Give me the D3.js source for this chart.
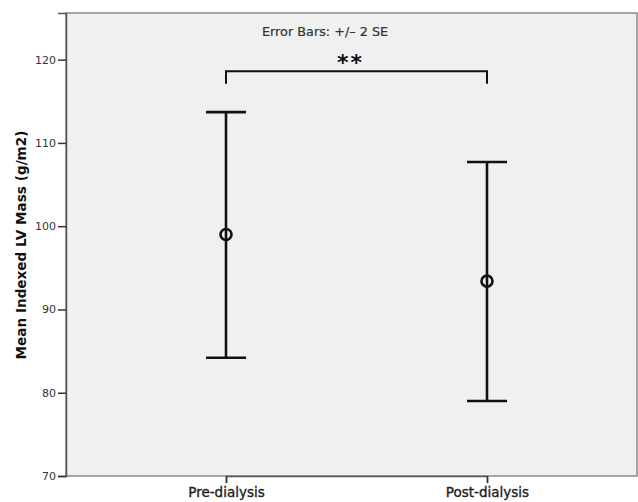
<!DOCTYPE html>
<html>
<head>
<meta charset="utf-8">
<script src="https://cdn.jsdelivr.net/npm/d3@7"></script>
<style>
  html, body { margin: 0; padding: 0; background: #ffffff; }
  svg { display: block; font-family: "DejaVu Sans", sans-serif; }
</style>
</head>
<body>
<div id="chart"></div>
<script>
// values
const groups = ['Pre-dialysis', 'Post-dialysis'];
const means = [99.0, 93.4];
const lowerBounds = [84.2, 79.0];
const upperBounds = [113.7, 107.7];
const yTicks = [70, 80, 90, 100, 110, 120];
const bracketLevel = 118.6;
const bracketDrop = 117.1;

const W = 638, H = 502;
const m = { top: 13, right: 1, bottom: 26, left: 66 };

const svg = d3.select('#chart').append('svg')
  .attr('width', W)
  .attr('height', H);

const x = d3.scalePoint()
  .domain(groups)
  .range([m.left + 160, W - m.right - 150]);

const y = d3.scaleLinear()
  .domain([70, 125.6])
  .range([H - m.bottom, m.top]);

// plot background
svg.append('rect')
  .attr('x', m.left)
  .attr('y', m.top)
  .attr('width', W - m.left - m.right)
  .attr('height', H - m.top - m.bottom)
  .attr('fill', '#f0f0f0')
  .attr('stroke', '#8a8a8a')
  .attr('stroke-width', 1.5);

// y axis
const yAxis = svg.append('g')
  .attr('transform', `translate(${m.left},0)`)
  .call(d3.axisLeft(y).tickValues(yTicks).tickSize(8).tickPadding(2).tickFormat(d3.format('d')));
yAxis.select('.domain').attr('stroke', '#555').attr('stroke-width', 1.5);
yAxis.selectAll('.tick line').attr('stroke', '#333').attr('stroke-width', 1.5);
yAxis.selectAll('.tick text')
  .attr('font-size', 11)
  .attr('fill', '#333')
  .attr('font-family', '"DejaVu Sans", sans-serif');

// x axis
const xAxis = svg.append('g')
  .attr('transform', `translate(0,${H - m.bottom})`)
  .call(d3.axisBottom(x).tickSize(7).tickPadding(4));
xAxis.select('.domain').attr('stroke', '#555').attr('stroke-width', 1.5);
xAxis.selectAll('.tick line').attr('stroke', '#333').attr('stroke-width', 1.5);
xAxis.selectAll('.tick text')
  .attr('font-size', 13.5)
  .attr('fill', '#222')
  .attr('stroke', '#222')
  .attr('stroke-width', 0.35)
  .attr('font-family', '"DejaVu Sans", sans-serif');

// y axis title
svg.append('text')
  .attr('transform', `translate(26,245) rotate(-90)`)
  .attr('text-anchor', 'middle')
  .attr('font-size', 13.6)
  .attr('font-weight', 700)
  .attr('fill', '#111')
  .text('Mean Indexed LV Mass (g/m2)');

// note
svg.append('text')
  .attr('x', 262)
  .attr('y', 36)
  .attr('font-size', 12.8)
  .attr('fill', '#333')
  .attr('stroke', '#333')
  .attr('stroke-width', 0.2)
  .text('Error Bars: +/\u2013 2 SE');

// error bars
const half = 20;
const bars = svg.append('g').selectAll('g')
  .data(groups.map((g, i) => ({ g, mean: means[i], lo: lowerBounds[i], hi: upperBounds[i] })))
  .join('g');

bars.append('line')
  .attr('x1', d => x(d.g)).attr('x2', d => x(d.g))
  .attr('y1', d => y(d.hi)).attr('y2', d => y(d.lo))
  .attr('stroke', '#111').attr('stroke-width', 2.6);

bars.selectAll('.cap')
  .data(d => [[d.g, d.hi], [d.g, d.lo]])
  .join('line')
  .attr('class', 'cap')
  .attr('x1', d => x(d[0]) - half).attr('x2', d => x(d[0]) + half)
  .attr('y1', d => y(d[1])).attr('y2', d => y(d[1]))
  .attr('stroke', '#111').attr('stroke-width', 2.6);

bars.append('circle')
  .attr('cx', d => x(d.g))
  .attr('cy', d => y(d.mean))
  .attr('r', 5.5)
  .attr('fill', 'none')
  .attr('stroke', '#111')
  .attr('stroke-width', 2.6);

// significance bracket
const bx0 = x(groups[0]), bx1 = x(groups[1]);
svg.append('path')
  .attr('d', `M${bx0},${y(bracketDrop)}V${y(bracketLevel)}H${bx1}V${y(bracketDrop)}`)
  .attr('fill', 'none')
  .attr('stroke', '#111')
  .attr('stroke-width', 2);

svg.append('text')
  .attr('x', (bx0 + bx1) / 2 - 6)
  .attr('y', y(bracketLevel) - 1)
  .attr('text-anchor', 'middle')
  .attr('font-size', 22)
  .attr('font-weight', 700)
  .attr('letter-spacing', 2)
  .attr('fill', '#111')
  .text('**');
</script>
</body>
</html>
